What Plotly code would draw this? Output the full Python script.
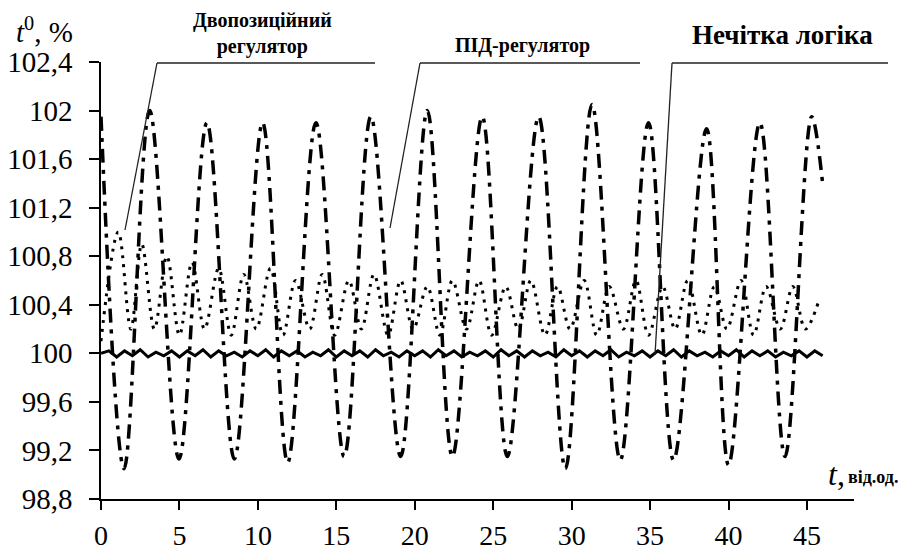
import plotly.graph_objects as go

# ---------------- data ----------------
# Two-position regulator (dash-dot): extrema of the oscillation
two_pos_t = [0, 1.47, 3.1, 4.97, 6.75, 8.5, 10.3, 11.9, 13.7, 15.5, 17.2, 19.1, 20.8, 22.4,
             24.3, 25.9, 27.9, 29.6, 31.3, 33.1, 34.9, 36.5, 38.6, 40.0, 42.0, 43.6, 45.3, 46.0]
two_pos_v = [101.95, 99.05, 102.0, 99.13, 101.9, 99.13, 101.9, 99.1, 101.9, 99.15, 101.95, 99.15,
             102.0, 99.15, 101.95, 99.15, 101.95, 99.05, 102.05, 99.12, 101.9, 99.12, 101.85,
             99.08, 101.9, 99.15, 101.95, 101.4]

# PID regulator (dotted)
pid_t = [0, 1.1, 1.9, 2.6, 3.4, 4.2, 5.0, 5.8, 6.6, 7.5, 8.3, 9.1, 9.9, 10.8, 11.6, 12.4,
         13.3, 14.1, 14.9, 15.8, 16.6, 17.4, 18.3, 19.1, 19.9, 20.8, 21.6, 22.4, 23.3, 24.1,
         24.9, 25.8, 26.6, 27.4, 28.3, 29.1, 29.9, 30.8, 31.6, 32.4, 33.3, 34.1, 34.9, 35.8,
         36.6, 37.4, 38.3, 39.1, 39.9, 40.8, 41.6, 42.4, 43.3, 44.1, 44.9, 45.8]
pid_v = [100.1, 101.0, 100.2, 100.9, 100.2, 100.8, 100.15, 100.75, 100.2, 100.7, 100.15, 100.65,
         100.2, 100.7, 100.15, 100.6, 100.2, 100.65, 100.15, 100.6, 100.2, 100.65, 100.15, 100.6,
         100.2, 100.55, 100.15, 100.6, 100.2, 100.6, 100.15, 100.55, 100.2, 100.6, 100.15, 100.55,
         100.2, 100.6, 100.15, 100.55, 100.2, 100.6, 100.15, 100.55, 100.2, 100.6, 100.15, 100.55,
         100.2, 100.6, 100.15, 100.55, 100.2, 100.55, 100.2, 100.45]

# Fuzzy logic (solid), sampled every 0.5 time units
fuzzy_step = 0.5
fuzzy_v = [100.00, 100.02, 99.97, 100.02, 99.98, 100.03, 99.97, 100.01, 99.98, 100.02,
           99.97, 100.02, 99.98, 100.03, 99.97, 100.02, 99.98, 100.01, 99.97, 100.02,
           99.98, 100.03, 99.97, 100.02, 99.98, 100.02, 99.97, 100.01, 99.98, 100.03,
           99.97, 100.02, 99.98, 100.02, 99.97, 100.03, 99.98, 100.01, 99.97, 100.02,
           99.98, 100.02, 99.97, 100.03, 99.98, 100.02, 99.97, 100.01, 99.98, 100.02,
           99.97, 100.03, 99.98, 100.02, 99.97, 100.02, 99.98, 100.01, 99.97, 100.03,
           99.98, 100.02, 99.97, 100.02, 99.98, 100.03, 99.97, 100.01, 99.98, 100.02,
           99.97, 100.02, 99.98, 100.03, 99.97, 100.02, 99.98, 100.01, 99.97, 100.02,
           99.98, 100.03, 99.97, 100.02, 99.98, 100.02, 99.97, 100.01, 99.98, 100.02,
           99.97, 100.02, 99.98]
fuzzy_t = [i * fuzzy_step for i in range(len(fuzzy_v))]

y_ticks = [98.8, 99.2, 99.6, 100, 100.4, 100.8, 101.2, 101.6, 102, 102.4]
y_labels = ["98,8", "99,2", "99,6", "100", "100,4", "100,8", "101,2", "101,6", "102", "102,4"]
x_ticks = [0, 5, 10, 15, 20, 25, 30, 35, 40, 45]

label_two = "Двопозиційний<br>регулятор"
label_pid = "ПІД-регулятор"
label_fuzzy = "Нечітка логіка"

# ---------------- layout geometry ----------------
W, H = 924, 552
L, R, T, B = 101, 70, 62, 53
PW, PH = W - L - R, H - T - B


def px(x):
    return (x - L) / PW


def py(y):
    return (H - B - y) / PH


SERIF = "'Liberation Serif', serif"

fig = go.Figure()
fig.add_trace(go.Scatter(x=two_pos_t, y=two_pos_v, mode="lines",
                         line=dict(color="black", width=3.5, dash="14px,7px,4px,7px",
                                   shape="spline", smoothing=1.0),
                         showlegend=False, hoverinfo="skip"))
fig.add_trace(go.Scatter(x=pid_t, y=pid_v, mode="lines",
                         line=dict(color="black", width=3, dash="3px,6px",
                                   shape="spline", smoothing=1.0),
                         showlegend=False, hoverinfo="skip"))
fig.add_trace(go.Scatter(x=fuzzy_t, y=fuzzy_v, mode="lines",
                         line=dict(color="black", width=3),
                         showlegend=False, hoverinfo="skip"))

fig.update_layout(
    width=W, height=H,
    margin=dict(l=L, r=R, t=T, b=B, pad=0, autoexpand=False),
    paper_bgcolor="white", plot_bgcolor="white",
    font=dict(family=SERIF, color="black"),
    xaxis=dict(range=[0, 48], tickvals=x_ticks, ticks="outside", ticklen=9, tickwidth=1.5,
               tickcolor="black", showline=True, linecolor="black", linewidth=1.5,
               showgrid=False, zeroline=False, tickfont=dict(size=28, family=SERIF),
               ticklabelstandoff=2, automargin=False),
    yaxis=dict(range=[98.8, 102.4], tickvals=y_ticks, ticktext=y_labels, ticks="outside",
               ticklen=10, tickwidth=1.5, tickcolor="black", showline=True, linecolor="black",
               linewidth=1.5, showgrid=False, zeroline=False,
               tickfont=dict(size=29, family=SERIF), ticklabelstandoff=11, automargin=False),
)

ann = [
    dict(text="<i>t</i><sup>0</sup>, %", x=px(14), y=py(30), xanchor="left", yanchor="middle",
         font=dict(size=29, family=SERIF)),
    dict(text="<i>t</i>,", x=px(826), y=py(474), xanchor="left", yanchor="middle",
         font=dict(size=32, family=SERIF)),
    dict(text="<b>від.од.</b>", x=px(846), y=py(477), xanchor="left", yanchor="middle",
         font=dict(size=18, family=SERIF)),
    dict(text="<b>" + label_two.replace("<br>", "</b><br><b>") + "</b>", x=px(262), y=py(33),
         xanchor="center", yanchor="middle", font=dict(size=20, family=SERIF)),
    dict(text="<b>" + label_pid + "</b>", x=px(522), y=py(45), xanchor="center",
         yanchor="middle", font=dict(size=20, family=SERIF)),
    dict(text="<b>" + label_fuzzy + "</b>", x=px(782), y=py(35), xanchor="center",
         yanchor="middle", font=dict(size=27, family=SERIF)),
]
for a in ann:
    a.update(xref="paper", yref="paper", showarrow=False)
fig.update_layout(annotations=ann)

segs = [((157, 63), (375, 63)), ((157, 63), (125, 230)),
        ((420, 63), (640, 63)), ((420, 63), (390, 228)),
        ((672, 63), (888, 63)), ((672, 63), (655, 355))]
shapes = []
for (x0, y0), (x1, y1) in segs:
    shapes.append(dict(type="line", xref="paper", yref="paper", x0=px(x0), y0=py(y0),
                       x1=px(x1), y1=py(y1), line=dict(color="#222", width=1.3)))
fig.update_layout(shapes=shapes)

fig.write_html("out.html")
